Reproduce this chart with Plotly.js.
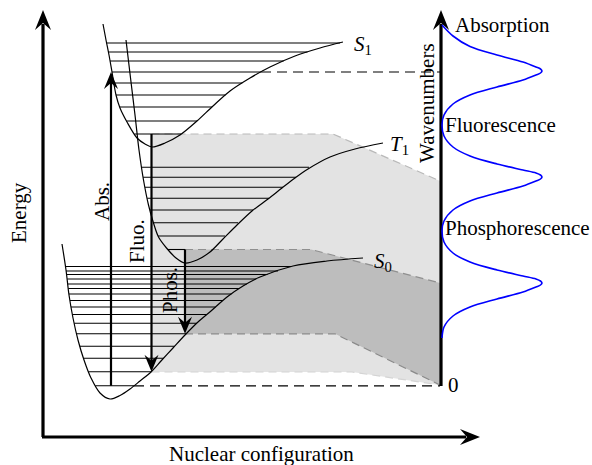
<!DOCTYPE html>
<html><head><meta charset="utf-8">
<script src="https://cdn.plot.ly/plotly-3.0.1.min.js"></script>
<style>html,body{margin:0;padding:0;background:#fff;}#chart{width:592px;height:465px;}</style>
</head><body><div id="chart"></div>
<script>
// ---- Potential energy curves (nuclear configuration -> energy) ----
const s1X = [103,106,109,112,116,120,127,137,145,152,165,180,197,213,230,250,270,295,320,343];
const s1Y = [24,40,55,72,95,108,122,138,144,147,143,135,121,106,91,78,67,56,48,42];
const t1X = [126,131,135,139,143.5,148.5,153.5,158.5,166.5,176,185,197,210,223,237,252,268,282,295,308,330,355,383];
const t1Y = [40,82,115,150,180,205,223,237,248,258,263,260,252,239,225,211,199,188,178,169,157,149,143];
const s0X = [62,66,69,73,78,84,91,100,110,120,130,140,151,161,173,185,198,211,227,243,260,293,327,363];
const s0Y = [244,270,295,318,340,360,378,393,399,395.5,389,381,372,361,348,335,322,311,297,286,277,266,261,258];

// ---- Vibrational levels: energy, left and right turning points ----
const s1LevelE  = [43,52,61,72,83,95,107,121,134];
const s1LevelX0 = [106.6,108.4,110,112,114,116,119.7,126.5,134.5];
const s1LevelX1 = [340,307.5,283.6,261,242.3,225.5,212,197,181];
const t1LevelE  = [167.3,177.3,187.3,198.3,210,222.7,236,249.5];
const t1LevelX0 = [141.6,143.1,145,147.2,149.9,153.4,158.1,167.9];
const t1LevelX1 = [309,296,283,269,253,238,225,185];
const s0LevelE  = [266.5,271,274.5,279,284,288.5,294,300.5,307,314.5,323.3,333.8,346.3,358.3,371.7,385.8];
const s0LevelX0 = [65.5,66,66.5,67.2,67.8,68.3,69,70,71,72.4,74.2,76.6,79.9,83.5,88.5,95.3];
const s0LevelX1 = [291,278,267.5,256.2,246.8,239.4,231.4,223,215.6,206.9,196.7,186.2,174.6,163.5,151.3,134];

// ---- Transitions ----
const transName = ['Abs.','Fluo.','Phos.'];
const transX    = [111,151.5,185];
const transFrom = [385.8,134,249.5];
const transTo   = [72,371.7,333.8];

// ---- Emission bands (shaded) ----
const fluoBandX = [151.5,333,440,440,352,151.5];
const fluoBandY = [134,134,181,385,372,372];
const phosBandX = [185,311,440,440,335,185];
const phosBandY = [249.5,249.5,283,385,333.8,333.8];

// ---- Spectrum on wavenumber axis ----
const specX = [442,453,470,497,523,536,540.5,542,540.5,536,523,497,470,453,444,442,444,453,470,497,523,536,540.5,542,540.5,536,523,497,470,453,444,442,444,453,470,497,523,536,540.5,542,540.5,536,523,497,470,453,444,442];
const specY = [25,36,46.5,55,62,67,69,71,73,75,80,87,95,104,115,125,136,147,156,164,170,173,175,177,179,181,186,193,201,210,221,231,242,253,262,270,276,279,281,283,285,287,292,299,307,316,327,338];
const specLabels = ['Absorption','Fluorescence','Phosphorescence'];
const specLabelY = [25,125,228];

const serif = 'Liberation Serif, Times New Roman, serif';
const traces = [];
function line(x, y, color, width, dash, shape) {
  traces.push({type:'scatter', mode:'lines', x:x, y:y, hoverinfo:'skip',
    line:{color:color, width:width, dash:dash||'solid', shape:shape||'linear', smoothing:0.9}});
}
function poly(x, y, color) {
  traces.push({type:'scatter', mode:'lines', x:x, y:y, fill:'toself', fillcolor:color,
    line:{width:0, color:color}, hoverinfo:'skip'});
}
// arrowhead polygon, dir = unit vector of travel
function head(tx, ty, dx, dy, len, hw) {
  const px = -dy, py = dx;
  const bx = tx - dx*len, by = ty - dy*len;
  const nx = tx - dx*len*0.65, ny = ty - dy*len*0.65;
  poly([tx, bx+px*hw, nx, bx-px*hw, tx], [ty, by+py*hw, ny, by-py*hw, ty], '#000');
}

// bands
poly(fluoBandX, fluoBandY, '#e3e3e3');
poly(phosBandX, phosBandY, '#bdbdbd');
// band edges (dashed)
line(fluoBandX.slice(0,3), fluoBandY.slice(0,3), '#b9b9b9', 1.2, '8px,5px');
line(fluoBandX.slice(3,6).reverse(), fluoBandY.slice(3,6).reverse(), '#d4d4d4', 1.2, '8px,5px');
line(phosBandX.slice(0,3), phosBandY.slice(0,3), '#8f8f8f', 1.2, '8px,5px');
line(phosBandX.slice(3,6).reverse(), phosBandY.slice(3,6).reverse(), '#8a8a8a', 1.2, '8px,5px');

// vibrational levels
function levels(E, X0, X1) {
  const xs = [], ys = [];
  for (let i = 0; i < E.length; i++) { xs.push(X0[i], X1[i], null); ys.push(E[i], E[i], null); }
  line(xs, ys, '#000', 1.1);
}
levels(s1LevelE, s1LevelX0, s1LevelX1);
levels(t1LevelE, t1LevelX0, t1LevelX1);
levels(s0LevelE, s0LevelX0, s0LevelX1);

// dashed reference lines to wavenumber axis
line([s1LevelX1[3], 440], [s1LevelE[3], s1LevelE[3]], '#000', 1.2, '10px,6px');
line([s0LevelX1[15], 440], [s0LevelE[15], s0LevelE[15]], '#000', 1.2, '10px,6px');

// curves
line(s1X, s1Y, '#000', 1.2, 'solid', 'spline');
line(t1X, t1Y, '#000', 1.2, 'solid', 'spline');
line(s0X, s0Y, '#000', 1.2, 'solid', 'spline');

// transitions
for (let i = 0; i < transX.length; i++) {
  const d = transTo[i] < transFrom[i] ? -1 : 1;
  line([transX[i], transX[i]], [transFrom[i], transTo[i] - d*8], '#000', 2.2);
  head(transX[i], transTo[i], 0, d, 17, 7);
}

// axes
line([43, 43], [437, 24], '#000', 3.2);
head(43, 10, 0, -1, 20, 8);
line([42, 466], [437, 437], '#000', 3.2);
head(480, 437, 1, 0, 20, 8);
line([441, 441], [386, 24], '#000', 3.2);
head(441, 10, 0, -1, 20, 8);

// spectrum
line(specX, specY, '#0000ff', 1.6, 'solid', 'spline');

const ann = [];
function txt(x, y, t, size, angle, xa) {
  ann.push({x:x, y:y, xref:'x', yref:'y', text:t, showarrow:false, textangle:angle||0,
    xanchor:xa||'center', yanchor:'middle', font:{family:serif, size:size, color:'#000'}});
}
txt(19, 213, 'Energy', 21, -90);
txt(261, 454, 'Nuclear configuration', 21);
txt(427, 103, 'Wavenumbers', 21, -90);
txt(102, 202, transName[0], 21, -90);
txt(137, 241, transName[1], 21, -90);
txt(170, 290, transName[2], 21, -90);
txt(363, 45, '<i>S</i><sub>1</sub>', 21);
txt(399, 145, '<i>T</i><sub>1</sub>', 21);
txt(383, 262, '<i>S</i><sub>0</sub>', 21);
txt(453, specLabelY[0], specLabels[0], 21, 0, 'left');
txt(443, specLabelY[1], specLabels[1], 21, 0, 'left');
txt(443, specLabelY[2], specLabels[2], 21, 0, 'left');
txt(453, 385, '0', 21);

Plotly.newPlot('chart', traces, {
  width:592, height:465, margin:{l:0,r:0,t:0,b:0}, showlegend:false,
  paper_bgcolor:'#fff', plot_bgcolor:'#fff',
  xaxis:{range:[0,592], visible:false, fixedrange:true},
  yaxis:{range:[465,0], visible:false, fixedrange:true},
  annotations: ann
}, {displayModeBar:false, staticPlot:true});
</script></body></html>
